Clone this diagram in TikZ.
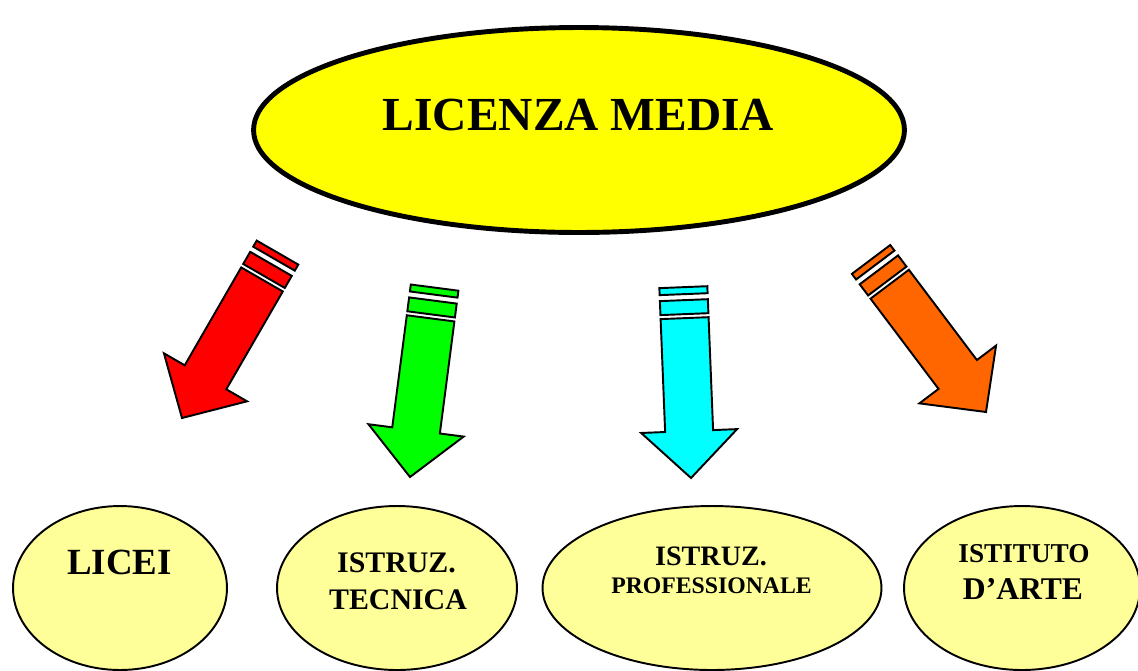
\documentclass[tikz,border=0pt]{standalone}
\usepackage{fontspec}
\setmainfont{Liberation Serif}
\usepackage{tikz}
\usetikzlibrary{shapes.geometric, positioning}
\definecolor{amarillo}{HTML}{FFFF00}
\definecolor{amarilloclaro}{HTML}{FFFF99}
\definecolor{naranja}{HTML}{FF6600}
\definecolor{rojo}{HTML}{FF0000}
\definecolor{verde}{HTML}{00FF00}
\definecolor{celeste}{HTML}{00FFFF}
\tikzset{
  flecha/.pic={
    \draw[pic actions] (0,0) -- (-48,-47) -- (-24,-47) -- (-24,-160) -- (24,-160) -- (24,-47) -- (48,-47) -- cycle;
    \draw[pic actions] (-24,-164) rectangle (24,-178);
    \draw[pic actions] (-24,-184) rectangle (24,-191);
  }
}

\begin{document}
\begin{tikzpicture}[x=0.02cm, y=-0.02cm,
    elipse/.style={ellipse, draw, line width=1.1pt, fill=amarilloclaro, inner sep=0pt, minimum height=3.28cm},
    texto/.style={anchor=base, inner sep=0pt}]
    \useasboundingbox (0,0) rectangle (1138,670);
    % Elipse superior
    \node[ellipse, draw, line width=2.8pt, fill=amarillo, minimum width=13.02cm, minimum height=4.1cm] (media) at (579,130) {};
    \node[texto, font=\bfseries\fontsize{27}{27}\selectfont] (tMedia) at (578.5,130) {LICENZA MEDIA};
    % Flechas
    \foreach \px/\py/\ang/\col in {182/418/-30/rojo, 410/477/-7.4/verde, 691/478/2.3/celeste, 986/412/37/naranja} {
        \pic[draw=black, fill=\col, line width=1.1pt, rotate=\ang] at (\px,\py) {flecha};
    }
    % Elipses de abajo
    \node[elipse, minimum width=4.28cm] (licei) at (120,588) {};
    \node[elipse, minimum width=4.8cm] (tecnica) at (397,588) {};
    \node[elipse, minimum width=6.78cm] (prof) at (712,588) {};
    \node[elipse, minimum width=4.72cm] (arte) at (1022,588) {};
    % Textos
    \node[texto, font=\bfseries\fontsize{21}{21}\selectfont] (tLicei) at (119.5,574) {LICEI};
    \node[texto, font=\bfseries\fontsize{17}{17}\selectfont] (tTec1) at (396.5,572) {ISTRUZ.};
    \node[texto, font=\bfseries\fontsize{17}{17}\selectfont] (tTec2) at (398,609) {TECNICA};
    \node[texto, font=\bfseries\fontsize{16}{16}\selectfont] (tProf1) at (711,565) {ISTRUZ.};
    \node[texto, font=\bfseries\fontsize{13.5}{13.5}\selectfont] (tProf2) at (711.5,593) {PROFESSIONALE};
    \node[texto, font=\bfseries\fontsize{15.5}{15.5}\selectfont] (tArte1) at (1024,562) {ISTITUTO};
    \node[texto, font=\bfseries\fontsize{18}{18}\selectfont] (tArte2) at (1023,599) {D’ARTE};
\end{tikzpicture}
\end{document}
